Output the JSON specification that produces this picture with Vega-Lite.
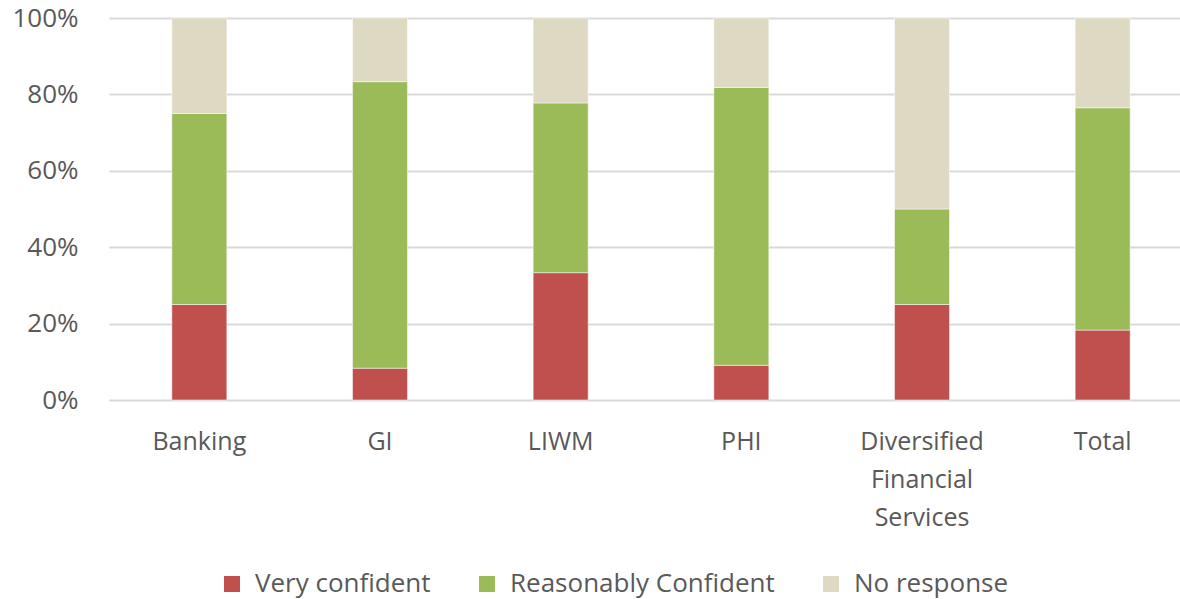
{
  "$schema": "https://vega.github.io/schema/vega-lite/v6.json",
  "autosize": {"type": "none"},
  "width": 1071,
  "height": 382,
  "padding": {"left": 109, "top": 18, "right": 0, "bottom": 199},
  "background": "white",
  "config": {
    "view": {"stroke": null},
    "font": "Open Sans",
    "axis": {"labelColor": "#595959", "labelFont": "Open Sans", "labelFontSize": 25}
  },
  "data": {
    "values": [
      {"sector": "Banking", "level": "Very confident", "k": 1, "pct": 25},
      {"sector": "Banking", "level": "Reasonably Confident", "k": 2, "pct": 50},
      {"sector": "Banking", "level": "No response", "k": 3, "pct": 25},
      {"sector": "GI", "level": "Very confident", "k": 1, "pct": 8.33},
      {"sector": "GI", "level": "Reasonably Confident", "k": 2, "pct": 75},
      {"sector": "GI", "level": "No response", "k": 3, "pct": 16.67},
      {"sector": "LIWM", "level": "Very confident", "k": 1, "pct": 33.33},
      {"sector": "LIWM", "level": "Reasonably Confident", "k": 2, "pct": 44.44},
      {"sector": "LIWM", "level": "No response", "k": 3, "pct": 22.23},
      {"sector": "PHI", "level": "Very confident", "k": 1, "pct": 9.09},
      {"sector": "PHI", "level": "Reasonably Confident", "k": 2, "pct": 72.73},
      {"sector": "PHI", "level": "No response", "k": 3, "pct": 18.18},
      {"sector": "Diversified Financial Services", "level": "Very confident", "k": 1, "pct": 25},
      {"sector": "Diversified Financial Services", "level": "Reasonably Confident", "k": 2, "pct": 25},
      {"sector": "Diversified Financial Services", "level": "No response", "k": 3, "pct": 50},
      {"sector": "Total", "level": "Very confident", "k": 1, "pct": 18.3},
      {"sector": "Total", "level": "Reasonably Confident", "k": 2, "pct": 58.2},
      {"sector": "Total", "level": "No response", "k": 3, "pct": 23.5}
    ]
  },
  "mark": {"type": "bar", "width": 55, "stroke": "white", "strokeWidth": 0.5},
  "encoding": {
    "x": {
      "field": "sector",
      "type": "nominal",
      "sort": ["Banking", "GI", "LIWM", "PHI", "Diversified Financial Services", "Total"],
      "scale": {"paddingInner": 0, "paddingOuter": 0, "range": [0, 1084]},
      "axis": {
        "title": null,
        "labelAngle": 0,
        "domain": false,
        "ticks": false,
        "labelPadding": 41,
        "labelExpr": "datum.value == 'Diversified Financial Services' ? ['Diversified', 'Financial', 'Services'] : datum.value",
        "labelLineHeight": 38,
        "labelBaseline": "middle"
      }
    },
    "y": {
      "field": "pct",
      "type": "quantitative",
      "stack": "zero",
      "scale": {"domain": [0, 100]},
      "axis": {
        "title": null,
        "values": [0, 20, 40, 60, 80, 100],
        "labelExpr": "datum.value + '%'",
        "labelFontSize": 26,
        "domain": false,
        "ticks": false,
        "labelPadding": 31,
        "gridColor": "#D9D9D9",
        "gridWidth": 2
      }
    },
    "color": {
      "field": "level",
      "type": "nominal",
      "scale": {
        "domain": ["Very confident", "Reasonably Confident", "No response"],
        "range": ["#C0504D", "#9BBB59", "#DDD9C3"]
      },
      "legend": {
        "title": null,
        "orient": "none",
        "direction": "horizontal",
        "legendX": 110,
        "legendY": 553,
        "symbolType": "square",
        "symbolSize": 256,
        "symbolStrokeWidth": 0,
        "labelFontSize": 26,
        "labelColor": "#595959",
        "labelFont": "Open Sans",
        "labelOffset": 10,
        "columnPadding": 43,
        "labelLimit": 400
      }
    },
    "order": {"field": "k", "type": "quantitative"}
  }
}
